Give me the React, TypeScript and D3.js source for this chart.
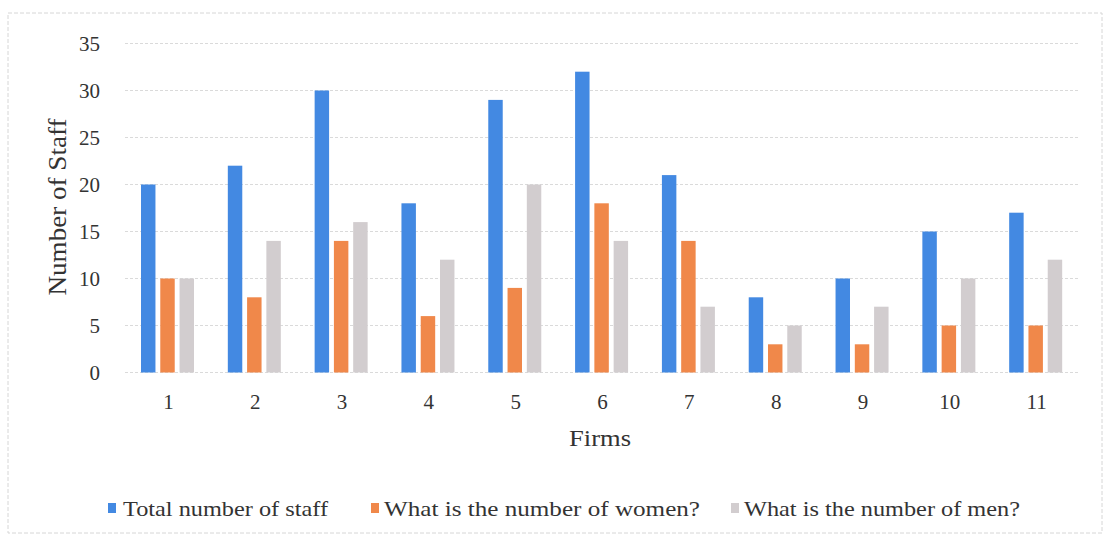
import React from "react";
import * as d3 from "d3";

const firms = ["1", "2", "3", "4", "5", "6", "7", "8", "9", "10", "11"];
const totalStaff = [20, 22, 30, 18, 29, 32, 21, 8, 10, 15, 17];
const women = [10, 8, 14, 6, 9, 18, 14, 3, 3, 5, 5];
const men = [10, 14, 16, 12, 20, 14, 7, 5, 7, 10, 12];
const seriesNames = [
  "Total number of staff",
  "What is the number of women?",
  "What is the number of men?",
];
const seriesColors = ["#4389e2", "#f0884a", "#d2cdcf"];
const yTicks = [0, 5, 10, 15, 20, 25, 30, 35];

const W = 1106;
const H = 537;
const plot = { left: 125, right: 1080, top: 43.5, bottom: 372.5 };
const FONT = "Liberation Serif";
const TEXT = "#333";

export default function App() {
  const series = [totalStaff, women, men];

  const x = d3
    .scaleBand<string>()
    .domain(firms)
    .range([plot.left, plot.right])
    .paddingInner(0)
    .paddingOuter(0);

  const inner = d3
    .scaleBand<number>()
    .domain([0, 1, 2])
    .range([16, 69])
    .paddingInner(0.25)
    .paddingOuter(0);

  const y = d3.scaleLinear().domain([0, 35]).range([plot.bottom, plot.top]);

  const legendItems = [
    { sq: 108, tx: 123, len: 205 },
    { sq: 371, tx: 384, len: 316 },
    { sq: 731, tx: 744, len: 276 },
  ];

  return (
    <svg
      width={W}
      height={H}
      style={{ position: "absolute", left: 0, top: 0, background: "#fff" }}
    >
      {/* chart frame */}
      <rect
        x={8}
        y={13}
        width={1094}
        height={520}
        fill="none"
        stroke="#d6d6d6"
        strokeWidth={1}
        strokeDasharray="4 2"
      />

      {/* gridlines */}
      {yTicks.map((t) => (
        <line
          key={t}
          x1={plot.left}
          x2={plot.right}
          y1={y(t)}
          y2={y(t)}
          stroke="#dadada"
          strokeWidth={1}
          strokeDasharray="3 2"
        />
      ))}

      {/* y tick labels */}
      {yTicks.map((t) => (
        <text
          key={t}
          x={100}
          y={y(t) + 7}
          textAnchor="end"
          style={{ fontFamily: FONT, fontSize: 21 }}
          fill={TEXT}
        >
          {t}
        </text>
      ))}

      {/* bars */}
      {firms.map((f, i) => (
        <g key={f}>
          {series.map((vals, s) => (
            <rect
              key={s}
              x={(x(f) as number) + (inner(s) as number)}
              y={y(vals[i])}
              width={inner.bandwidth()}
              height={y(0) - y(vals[i])}
              fill={seriesColors[s]}
            />
          ))}
        </g>
      ))}

      {/* x tick labels */}
      {firms.map((f) => (
        <text
          key={f}
          x={(x(f) as number) + x.bandwidth() / 2}
          y={409}
          textAnchor="middle"
          style={{ fontFamily: FONT, fontSize: 21 }}
          fill={TEXT}
        >
          {f}
        </text>
      ))}

      {/* axis titles */}
      <text
        x={600}
        y={446}
        textAnchor="middle"
        style={{ fontFamily: FONT, fontSize: 23 }}
        fill={TEXT}
        textLength={62}
        lengthAdjust="spacingAndGlyphs"
      >
        Firms
      </text>
      <text
        transform="translate(66,207) rotate(-90)"
        textAnchor="middle"
        style={{ fontFamily: FONT, fontSize: 25 }}
        fill={TEXT}
        textLength={177}
        lengthAdjust="spacingAndGlyphs"
      >
        Number of Staff
      </text>

      {/* legend */}
      {legendItems.map((it, s) => (
        <g key={s}>
          <rect x={it.sq} y={503} width={8} height={10} fill={seriesColors[s]} />
          <text
            x={it.tx}
            y={516}
            style={{ fontFamily: FONT, fontSize: 21 }}
            fill={TEXT}
            textLength={it.len}
            lengthAdjust="spacingAndGlyphs"
          >
            {seriesNames[s]}
          </text>
        </g>
      ))}
    </svg>
  );
}
